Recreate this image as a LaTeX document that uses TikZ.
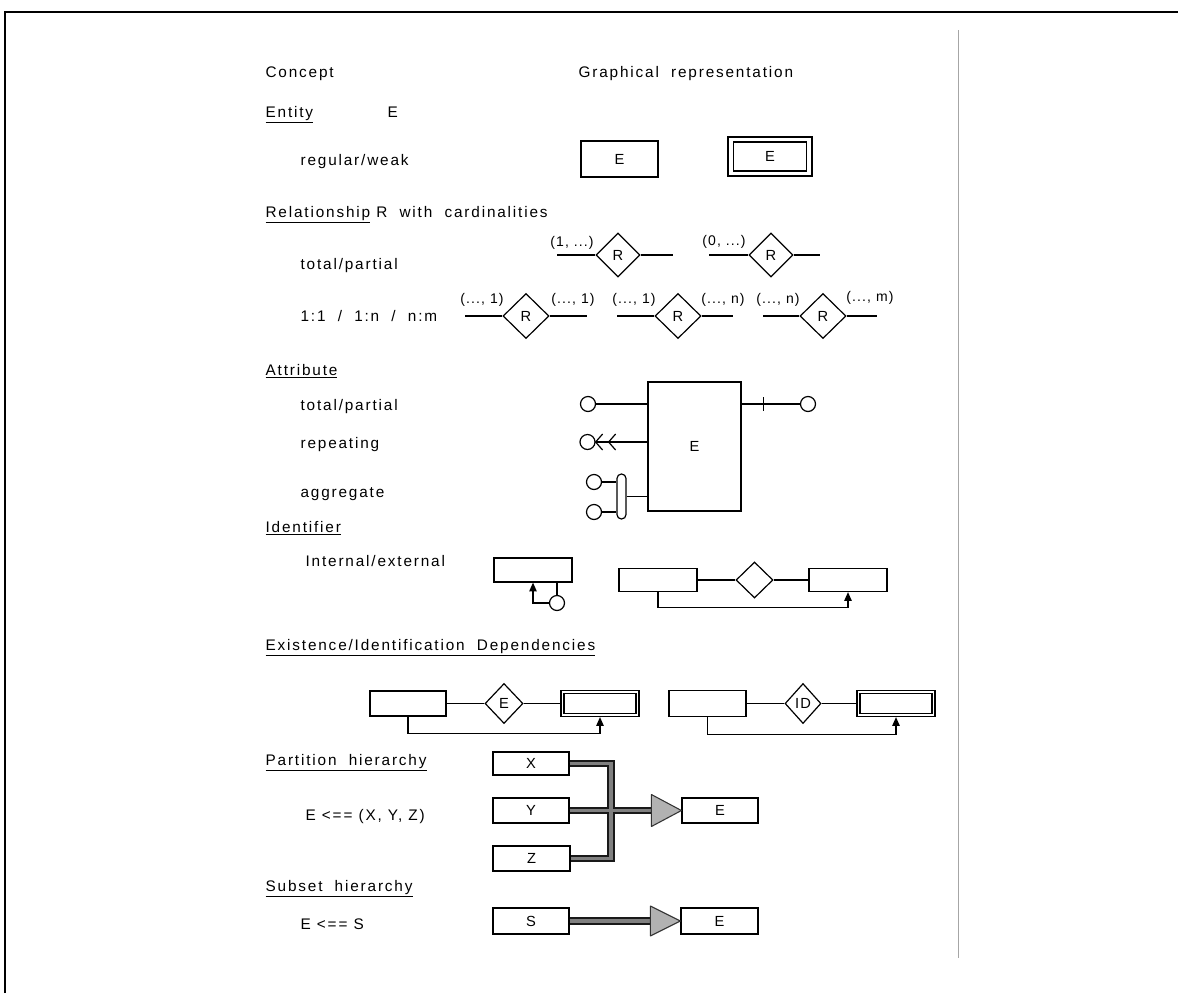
\documentclass[tikz,border=0pt]{standalone}
\usepackage{fontspec}
\setmainfont{Liberation Sans}[LetterSpace=12]
\newfontfamily\cardfont{Liberation Sans}[LetterSpace=8]
\usetikzlibrary{shapes.geometric,arrows.meta,calc}
\begin{document}
\begin{tikzpicture}[x=0.75pt,y=-0.75pt, line width=0.9pt,
  every node/.style={font=\fontsize{11.5}{13}\selectfont},
  txt/.style={anchor=base west, inner sep=0},
  box/.style 2 args={draw, rectangle, minimum width={#1*0.75pt}, minimum height={#2*0.75pt}, inner sep=0, font=\cardfont\fontsize{11}{12}\selectfont},
  rel/.style 2 args={draw, diamond, aspect=1, minimum width={#1*0.75pt}, minimum height={#2*0.75pt}, inner sep=0, font=\cardfont\fontsize{11}{12}\selectfont},
  attr/.style={draw, circle, minimum size=11.25pt, inner sep=0},
  card/.style={inner sep=0, font=\cardfont\fontsize{10.5}{12}\selectfont},
  idarrow/.style={-{Triangle[width=5.5pt,length=6.5pt]}},
  hierout/.style={draw=black!90, line width=5.6pt},
  hierin/.style={draw=black!50, line width=2.8pt},
  tri/.style={draw=black!80, fill=gray!60, line width=0.8pt, line join=round},
  frame/.style={line width=1.5pt},
]
\useasboundingbox (0,0) rectangle (1178,993);
% frame
\draw[frame] (5,993) coordinate (fb) -- (5,12) coordinate (fc) -- (1178,12) coordinate (fr);
\draw[gray!70, line width=0.6pt] (958,30) coordinate (va) -- (958,958) coordinate (vb);

% texts
\node[txt] (tConcept) at (265,77) {Concept};
\node[txt] (tGraph) at (578,77) {Graphical~ representation};
\node[txt] (tEntity) at (265,117) {\underline{Entity}};
\node[txt] (tEntityE) at (387,117) {E};
\node[txt] (tRegWeak) at (300,165) {regular/weak};
\node[txt] (tRel) at (265,217) {\underline{Relationship} R~ with~ cardinalities};
\node[txt] (tTotPart) at (300,269) {total/partial};
\node[txt] (tCard) at (300,321) {1:1~ /~ 1:n~ /~ n:m};
\node[txt] (tAttr) at (265,375) {\underline{Attribute}};
\node[txt] (tTotPart2) at (300,410) {total/partial};
\node[txt] (tRep) at (300,448) {repeating};
\node[txt] (tAgg) at (300,497) {aggregate};
\node[txt] (tIdent) at (265,532) {\underline{Identifier}};
\node[txt] (tIntExt) at (305,566) {Internal/external};
\node[txt] (tExist) at (265,650) {\underline{Existence/Identification~ Dependencies}};
\node[txt] (tPart) at (265,765) {\underline{Partition~ hierarchy}};
\node[txt] (tPartF) at (305,820) {E <== (X, Y, Z)};
\node[txt] (tSub) at (265,891) {\underline{Subset~ hierarchy}};
\node[txt] (tSubF) at (300,929) {E <== S};

% entity
\node[box={77}{36}] (eReg) at (619.5,159) {E};
\node[box={84}{39}] (eWeak) at (770,156.5) {};
\node[box={73}{29}] (eWeakIn) at (eWeak.center) {E};

% relationships total/partial
\node[rel={44}{44}] (r1) at (618,255) {R};
\coordinate (r1a) at (557,255); \coordinate (r1b) at (673,255);
\draw (r1a) -- (r1.west); \draw (r1.east) -- (r1b);
\node[card] (l1) at (572,243) {(1, ...)};
\node[rel={44}{44}] (r2) at (771,255) {R};
\coordinate (r2a) at (709,255); \coordinate (r2b) at (820,255);
\draw (r2a) -- (r2.west); \draw (r2.east) -- (r2b);
\node[card] (l2) at (724,242) {(0, ...)};

% relationships 1:1 / 1:n / n:m
\node[rel={46}{45}] (rA) at (526,316) {R};
\coordinate (rAa) at (465,316); \coordinate (rAb) at (587,316);
\draw (rAa) -- (rA.west); \draw (rA.east) -- (rAb);
\node[card] (lA1) at (482,300) {(..., 1)};
\node[card] (lA2) at (573,300) {(..., 1)};
\node[rel={46}{45}] (rB) at (678,316) {R};
\coordinate (rBa) at (617,316); \coordinate (rBb) at (733,316);
\draw (rBa) -- (rB.west); \draw (rB.east) -- (rBb);
\node[card] (lB1) at (634,300) {(..., 1)};
\node[card] (lB2) at (723,300) {(..., n)};
\node[rel={46}{45}] (rC) at (823,316) {R};
\coordinate (rCa) at (763,316); \coordinate (rCb) at (877,316);
\draw (rCa) -- (rC.west); \draw (rC.east) -- (rCb);
\node[card] (lC1) at (778,300) {(..., n)};
\node[card] (lC2) at (870,298) {(..., m)};

% attribute
\node[box={93}{129}] (aE) at (694.5,446.5) {E};
\node[attr] (c1) at (588,404) {};
\draw (c1) -- (c1 -| aE.west);
\node[attr] (c2) at (808,404) {};
\draw (aE.east |- c2) -- (c2);
\draw ($(aE.east |- c2)+(22,-7)$) coordinate (tk) -- ++(0,14);
\node[attr] (c3) at (587.5,442) {};
\draw (c3) -- (c3 -| aE.west);
\draw ($(c3.east)+(7,-8)$) -- (c3.east) -- ($(c3.east)+(7,8)$);
\draw ($(c3.east)+(20,-8)$) -- ($(c3.east)+(13,0)$) -- ($(c3.east)+(20,8)$);
\node[attr] (c4) at (594,482) {};
\node[attr] (c5) at (594,512) {};
\node[draw, rounded corners=3.3pt, minimum width=6.75pt, minimum height=33.75pt, inner sep=0] (agg) at (621.5,496.5) {};
\draw (c4) -- (c4 -| agg.west);
\draw (c5) -- (c5 -| agg.west);
\draw (agg.east) -- (agg.east -| aE.west);

% identifier internal
\node[box={78}{24}] (iBox) at (533,570) {};
\node[attr] (iC) at (557,603) {};
\draw (iC.north) -- (iC.north |- iBox.south);
\draw[idarrow] (iC.west) -| (iBox.south);
% identifier external
\node[box={78}{23}] (xL) at (658,580) {};
\node[rel={37}{36}] (xD) at (754.5,580) {};
\node[box={78}{23}] (xR) at (848,580) {};
\draw (xL) -- (xD); \draw (xD) -- (xR);
\draw[idarrow] (xL.south) -- ++(0,15) -| (xR.south);

% existence dependency
\node[box={76}{25}] (d1) at (408,703.5) {};
\node[rel={38}{40}] (d1r) at (504,703.5) {E};
\node[box={78}{26}] (d1w) at (600,703.5) {};
\node[box={72}{20}] (d1wi) at (d1w.center) {};
\draw (d1) -- (d1r); \draw (d1r) -- (d1w);
\draw[idarrow] (d1.south) -- ++(0,17) -| (d1w.south);
% identification dependency
\node[box={77}{26}] (d2) at (707.5,703.5) {};
\node[rel={36}{40}] (d2r) at (803,703.5) {ID};
\node[box={78}{26}] (d2w) at (896,703.5) {};
\node[box={72}{20}] (d2wi) at (d2w.center) {};
\draw (d2) -- (d2r); \draw (d2r) -- (d2w);
\draw[idarrow] (d2.south) -- ++(0,17) -| (d2w.south);

% partition hierarchy
\node[box={76}{23}] (pX) at (531,763.5) {X};
\node[box={76}{25}] (pY) at (531,810.5) {Y};
\node[box={77}{25}] (pZ) at (531.5,858.5) {Z};
\node[box={76}{25}] (pE) at (720,810.5) {E};
\coordinate (pj) at (611,810.5);
\coordinate (pt) at ($(pE.west)+(-30,0)$);
\draw[hierout] (pX.east) -- (pX.east -| pj) -- (pZ.east -| pj) -- (pZ.east);
\draw[hierout] (pY.east) -- (pt);
\draw[hierin] (pX.east) -- (pX.east -| pj) -- (pZ.east -| pj) -- (pZ.east);
\draw[hierin] (pY.east) -- (pt);
\draw[tri] ($(pE.west)+(-30,-16)$) -- (pE.west) -- ($(pE.west)+(-30,16)$) -- cycle;

% subset hierarchy
\node[box={76}{26}] (sS) at (531,921) {S};
\node[box={77}{26}] (sE) at (719.5,921) {E};
\coordinate (st) at ($(sE.west)+(-30,0)$);
\draw[hierout] (sS.east) -- (st);
\draw[hierin] (sS.east) -- (st);
\draw[tri] ($(sE.west)+(-30,-15)$) -- (sE.west) -- ($(sE.west)+(-30,15)$) -- cycle;
\end{tikzpicture}
\end{document}
